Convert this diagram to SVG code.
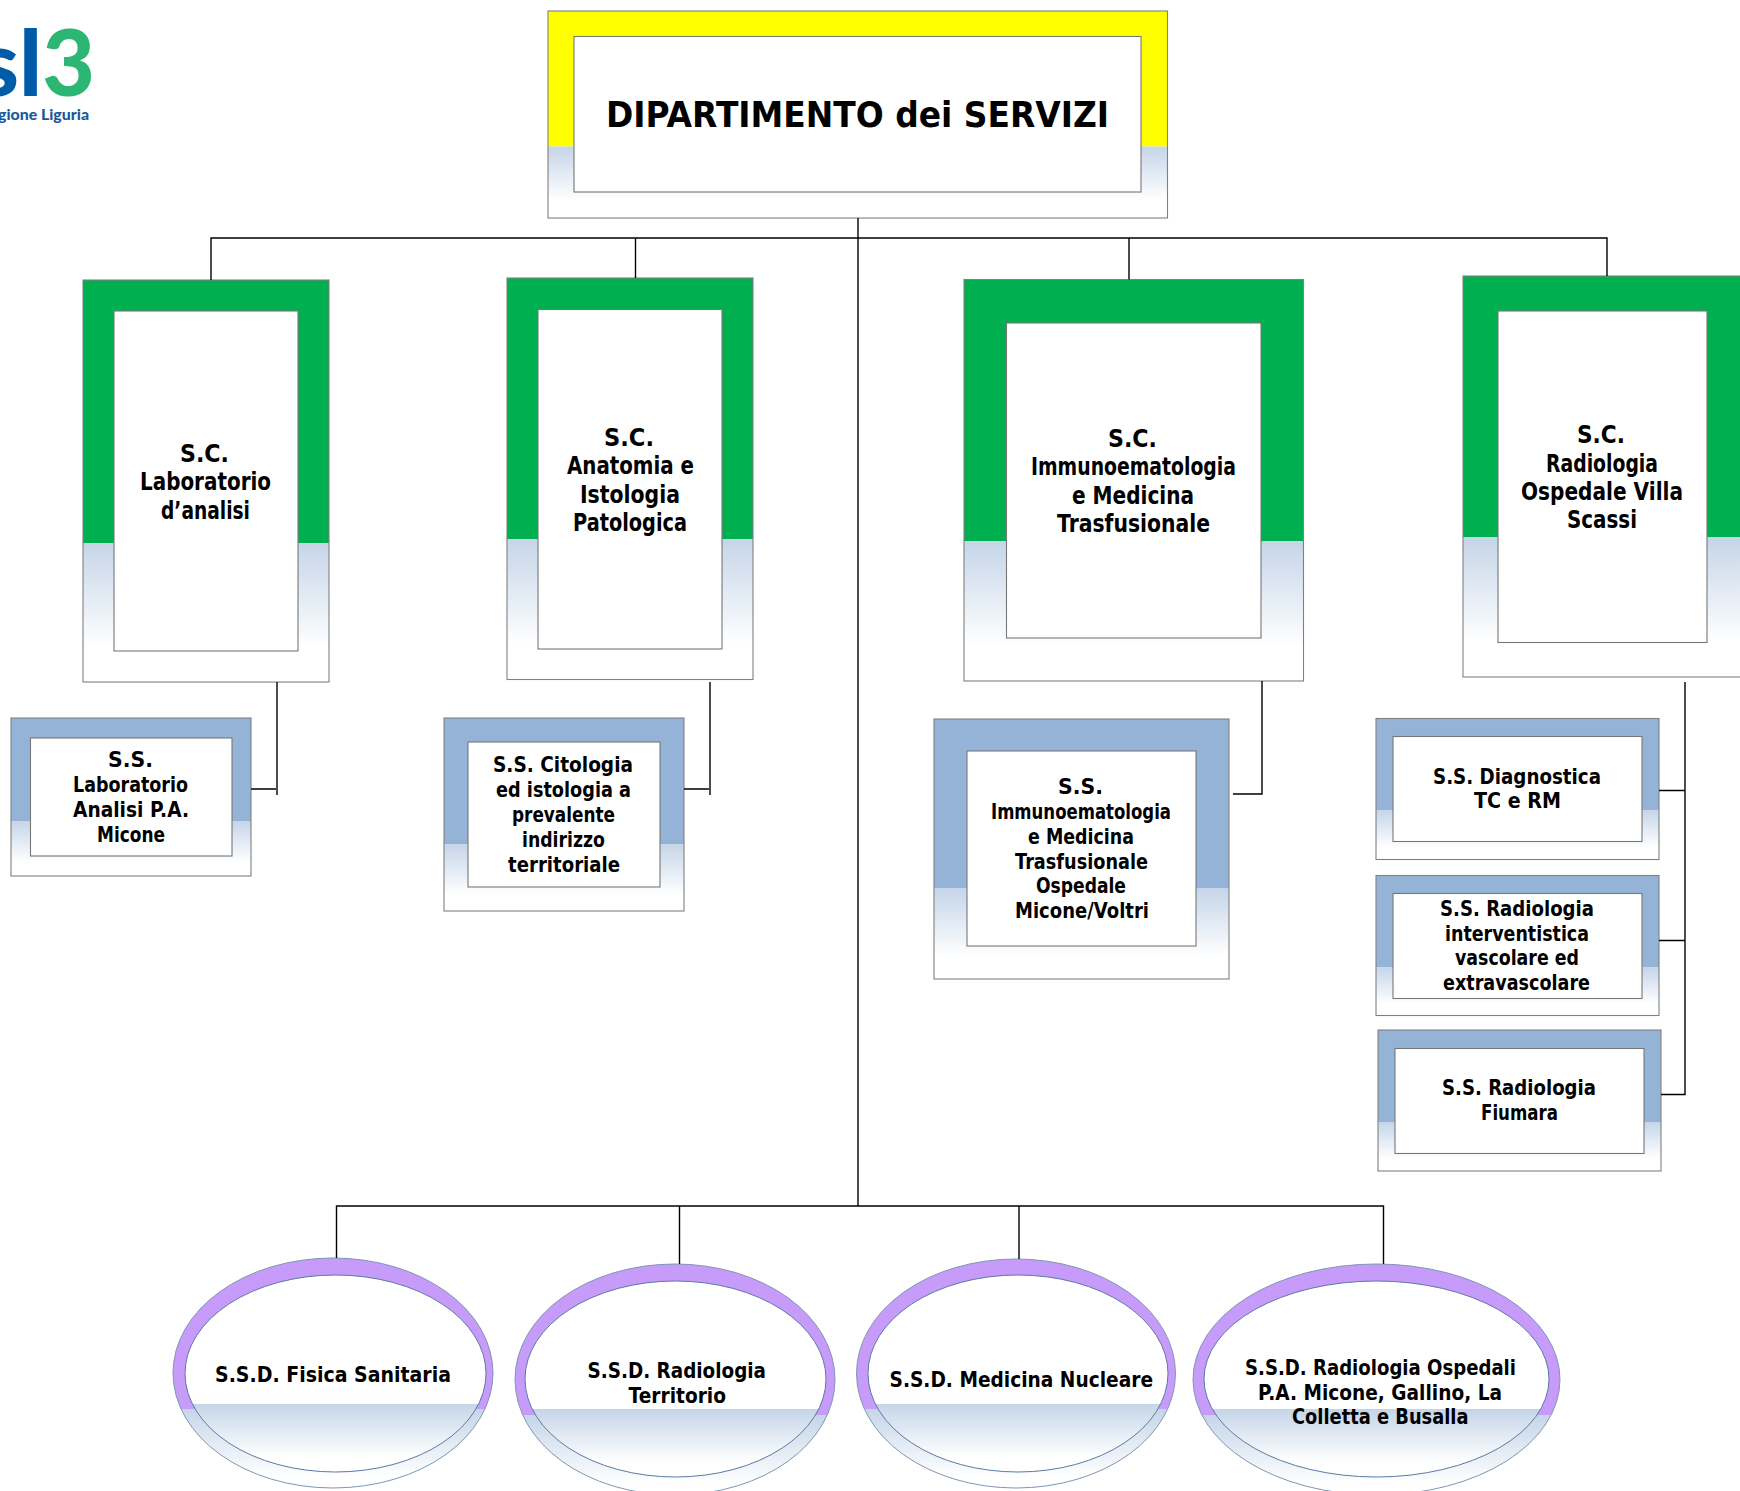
<svg xmlns="http://www.w3.org/2000/svg" width="1740" height="1491" viewBox="0 0 1740 1491">
<style>
.o{fill:none;stroke:#808080;stroke-width:1.1}
.i{fill:#fff;stroke:#777;stroke-width:1.1}
.y{fill:#ffff00}.g{fill:#00b050}.b{fill:#95b3d7}
.f{fill:url(#fade)}
.eo{stroke:#7f96b4;stroke-width:1;fill:url(#eOuter)}
.ei{stroke:#5c7aa3;stroke-width:1;fill:url(#eInner)}
text{font-family:"Comic Sans MS","DejaVu Sans",sans-serif;font-weight:700;fill:#000}
.t1{font-size:36px}.t2{font-size:24.5px}.t3{font-size:21.5px}
#connectors path{fill:none;stroke:#000;stroke-width:1.4}
</style>
<defs>
<linearGradient id="fade" x1="0" y1="0" x2="0" y2="1"><stop offset="0" stop-color="#c5d5e8"/><stop offset=".75" stop-color="#fff"/></linearGradient>
<linearGradient id="eOuter" x1="0" y1="0" x2="0" y2="1"><stop offset=".655" stop-color="#c79bf9"/><stop offset=".655" stop-color="#c5d5e8"/><stop offset=".95" stop-color="#fff"/></linearGradient>
<linearGradient id="eInner" x1="0" y1="0" x2="0" y2="1"><stop offset=".655" stop-color="#fff"/><stop offset=".655" stop-color="#c5d5e8"/><stop offset=".925" stop-color="#fff"/></linearGradient>
</defs>
<rect width="1740" height="1491" fill="#fff"/>
<g id="logo">
<text x="95" y="96" text-anchor="end" style="font-family:Lato,sans-serif;font-size:91px;font-weight:900"><tspan fill="#005ca9">sl</tspan><tspan fill="#2bb673">3</tspan></text>
<text x="-2" y="120" textLength="91" lengthAdjust="spacingAndGlyphs" style="font-family:Lato,sans-serif;font-size:15px;font-weight:900;fill:#1a5a9a">gione Liguria</text>
</g>
<g id="dip">
<rect class="y" x="548" y="11" width="619.5" height="135.5"/><rect class="f" x="548" y="146.5" width="619.5" height="71.5"/><rect class="o" x="548" y="11" width="619.5" height="207"/><rect class="i" x="574" y="36.5" width="567" height="155.5"/>
<text class="t1" x="606" y="127" textLength="503" lengthAdjust="spacingAndGlyphs">DIPARTIMENTO dei SERVIZI</text>
</g>
<g id="sc-lab">
<rect class="g" x="83" y="280" width="246" height="263"/><rect class="f" x="83" y="543" width="246" height="139"/><rect class="o" x="83" y="280" width="246" height="402"/><rect class="i" x="114" y="311" width="184" height="340"/>
<text class="t2" x="180" y="462" textLength="49" lengthAdjust="spacingAndGlyphs">S.C.</text>
<text class="t2" x="140" y="490" textLength="131" lengthAdjust="spacingAndGlyphs">Laboratorio</text>
<text class="t2" x="161" y="519" textLength="89" lengthAdjust="spacingAndGlyphs">d’analisi</text>
</g>
<g id="sc-ana">
<rect class="g" x="507" y="278" width="246" height="261"/><rect class="f" x="507" y="539" width="246" height="140.5"/><rect class="o" x="507" y="278" width="246" height="401.5"/><rect class="i" x="538" y="309.5" width="184" height="339.5"/>
<text class="t2" x="604" y="445.500" textLength="50" lengthAdjust="spacingAndGlyphs">S.C.</text>
<text class="t2" x="567" y="474" textLength="127" lengthAdjust="spacingAndGlyphs">Anatomia e</text>
<text class="t2" x="580" y="502.500" textLength="100" lengthAdjust="spacingAndGlyphs">Istologia</text>
<text class="t2" x="573" y="531" textLength="114" lengthAdjust="spacingAndGlyphs">Patologica</text>
</g>
<g id="sc-imm">
<rect class="g" x="964" y="279.5" width="339.5" height="261.5"/><rect class="f" x="964" y="541" width="339.5" height="140"/><rect class="o" x="964" y="279.5" width="339.5" height="401.5"/><rect class="i" x="1006.5" y="323" width="254.5" height="315"/>
<text class="t2" x="1108" y="446.500" textLength="49" lengthAdjust="spacingAndGlyphs">S.C.</text>
<text class="t2" x="1031" y="475" textLength="205" lengthAdjust="spacingAndGlyphs">Immunoematologia</text>
<text class="t2" x="1072" y="504" textLength="122" lengthAdjust="spacingAndGlyphs">e Medicina</text>
<text class="t2" x="1057" y="532" textLength="153" lengthAdjust="spacingAndGlyphs">Trasfusionale</text>
</g>
<g id="sc-rad">
<rect class="g" x="1463" y="276" width="297" height="261"/><rect class="f" x="1463" y="537" width="297" height="140"/><rect class="o" x="1463" y="276" width="297" height="401"/><rect class="i" x="1498" y="311" width="209" height="331.5"/>
<text class="t2" x="1577" y="443" textLength="48" lengthAdjust="spacingAndGlyphs">S.C.</text>
<text class="t2" x="1546" y="472" textLength="112" lengthAdjust="spacingAndGlyphs">Radiologia</text>
<text class="t2" x="1521" y="500" textLength="162" lengthAdjust="spacingAndGlyphs">Ospedale Villa</text>
<text class="t2" x="1567" y="528" textLength="70" lengthAdjust="spacingAndGlyphs">Scassi</text>
</g>
<g id="ss-lab">
<rect class="b" x="11" y="718" width="240" height="103"/><rect class="f" x="11" y="821" width="240" height="55"/><rect class="o" x="11" y="718" width="240" height="158"/><rect class="i" x="30.5" y="738" width="201.5" height="118"/>
<text class="t3" x="108" y="767" textLength="45" lengthAdjust="spacingAndGlyphs">S.S.</text>
<text class="t3" x="73" y="792" textLength="115" lengthAdjust="spacingAndGlyphs">Laboratorio</text>
<text class="t3" x="73" y="817" textLength="116" lengthAdjust="spacingAndGlyphs">Analisi P.A.</text>
<text class="t3" x="97" y="842" textLength="68" lengthAdjust="spacingAndGlyphs">Micone</text>
</g>
<g id="ss-cit">
<rect class="b" x="444" y="718" width="240" height="126"/><rect class="f" x="444" y="844" width="240" height="67"/><rect class="o" x="444" y="718" width="240" height="193"/><rect class="i" x="468" y="742" width="192" height="145"/>
<text class="t3" x="493" y="772" textLength="140" lengthAdjust="spacingAndGlyphs">S.S. Citologia</text>
<text class="t3" x="496" y="797" textLength="135" lengthAdjust="spacingAndGlyphs">ed istologia a</text>
<text class="t3" x="512" y="822" textLength="103" lengthAdjust="spacingAndGlyphs">prevalente</text>
<text class="t3" x="522" y="847" textLength="83" lengthAdjust="spacingAndGlyphs">indirizzo</text>
<text class="t3" x="508" y="872" textLength="112" lengthAdjust="spacingAndGlyphs">territoriale</text>
</g>
<g id="ss-imm">
<rect class="b" x="934" y="719" width="295" height="169"/><rect class="f" x="934" y="888" width="295" height="91"/><rect class="o" x="934" y="719" width="295" height="260"/><rect class="i" x="967" y="751" width="229" height="195"/>
<text class="t3" x="1058" y="794" textLength="45" lengthAdjust="spacingAndGlyphs">S.S.</text>
<text class="t3" x="991" y="819" textLength="180" lengthAdjust="spacingAndGlyphs">Immunoematologia</text>
<text class="t3" x="1028" y="844" textLength="106" lengthAdjust="spacingAndGlyphs">e Medicina</text>
<text class="t3" x="1015" y="869" textLength="133" lengthAdjust="spacingAndGlyphs">Trasfusionale</text>
<text class="t3" x="1036" y="893" textLength="90" lengthAdjust="spacingAndGlyphs">Ospedale</text>
<text class="t3" x="1015" y="918" textLength="134" lengthAdjust="spacingAndGlyphs">Micone/Voltri</text>
</g>
<g id="ss-diag">
<rect class="b" x="1376" y="718.5" width="283" height="92"/><rect class="f" x="1376" y="810.5" width="283" height="49"/><rect class="o" x="1376" y="718.5" width="283" height="141"/><rect class="i" x="1393" y="736.5" width="249" height="105"/>
<text class="t3" x="1433" y="783.500" textLength="168" lengthAdjust="spacingAndGlyphs">S.S. Diagnostica</text>
<text class="t3" x="1474" y="808" textLength="87" lengthAdjust="spacingAndGlyphs">TC e RM</text>
</g>
<g id="ss-int">
<rect class="b" x="1376" y="875.5" width="283" height="92"/><rect class="f" x="1376" y="967.5" width="283" height="48"/><rect class="o" x="1376" y="875.5" width="283" height="140"/><rect class="i" x="1393" y="893.5" width="249" height="105"/>
<text class="t3" x="1440" y="916" textLength="154" lengthAdjust="spacingAndGlyphs">S.S. Radiologia</text>
<text class="t3" x="1445" y="940.500" textLength="144" lengthAdjust="spacingAndGlyphs">interventistica</text>
<text class="t3" x="1455" y="965" textLength="124" lengthAdjust="spacingAndGlyphs">vascolare ed</text>
<text class="t3" x="1443" y="989.500" textLength="147" lengthAdjust="spacingAndGlyphs">extravascolare</text>
</g>
<g id="ss-fiu">
<rect class="b" x="1378" y="1030" width="283" height="92"/><rect class="f" x="1378" y="1122" width="283" height="49"/><rect class="o" x="1378" y="1030" width="283" height="141"/><rect class="i" x="1395" y="1048.5" width="249" height="105"/>
<text class="t3" x="1442" y="1095" textLength="154" lengthAdjust="spacingAndGlyphs">S.S. Radiologia</text>
<text class="t3" x="1481" y="1120" textLength="77" lengthAdjust="spacingAndGlyphs">Fiumara</text>
</g>
<g id="ssd-fis">
<ellipse class="eo" cx="333" cy="1373" rx="160" ry="115"/><ellipse class="ei" cx="335.5" cy="1373.5" rx="150.5" ry="98.5"/>
<text class="t3" x="215" y="1382" textLength="236" lengthAdjust="spacingAndGlyphs">S.S.D. Fisica Sanitaria</text>
</g>
<g id="ssd-rad">
<ellipse class="eo" cx="675" cy="1379.5" rx="160" ry="115.5"/><ellipse class="ei" cx="675.5" cy="1379" rx="150.5" ry="98"/>
<text class="t3" x="587.5" y="1377.500" textLength="178.5" lengthAdjust="spacingAndGlyphs">S.S.D. Radiologia</text>
<text class="t3" x="628.5" y="1402.500" textLength="97.5" lengthAdjust="spacingAndGlyphs">Territorio</text>
</g>
<g id="ssd-med">
<ellipse class="eo" cx="1016" cy="1373.5" rx="159.5" ry="114.5"/><ellipse class="ei" cx="1018" cy="1373.5" rx="150" ry="98.5"/>
<text class="t3" x="889.5" y="1386.500" textLength="263.5" lengthAdjust="spacingAndGlyphs">S.S.D. Medicina Nucleare</text>
</g>
<g id="ssd-osp">
<ellipse class="eo" cx="1376.5" cy="1379.5" rx="183.5" ry="115.5"/><ellipse class="ei" cx="1376.5" cy="1379" rx="172.5" ry="98"/>
<text class="t3" x="1245" y="1374.500" textLength="271" lengthAdjust="spacingAndGlyphs">S.S.D. Radiologia Ospedali</text>
<text class="t3" x="1258" y="1399.500" textLength="244" lengthAdjust="spacingAndGlyphs">P.A. Micone, Gallino, La</text>
<text class="t3" x="1292" y="1423.500" textLength="176.5" lengthAdjust="spacingAndGlyphs">Colletta e Busalla</text>
</g>
<g id="connectors">
<path d="M858 218V1206"/>
<path d="M211 280V238H1607V276M635.5 238V278M1129 238V279.5"/>
<path d="M277 682V795M251 789H276"/>
<path d="M710 682V795M684 789H709"/>
<path d="M1262 681V794H1233"/>
<path d="M1685 682V1094.5H1661M1659 790.500H1685M1659 940.500H1685"/>
<path d="M336.5 1258V1206H1383.5V1264M679.5 1206V1264M1019 1206V1259"/>
</g>
</svg>
